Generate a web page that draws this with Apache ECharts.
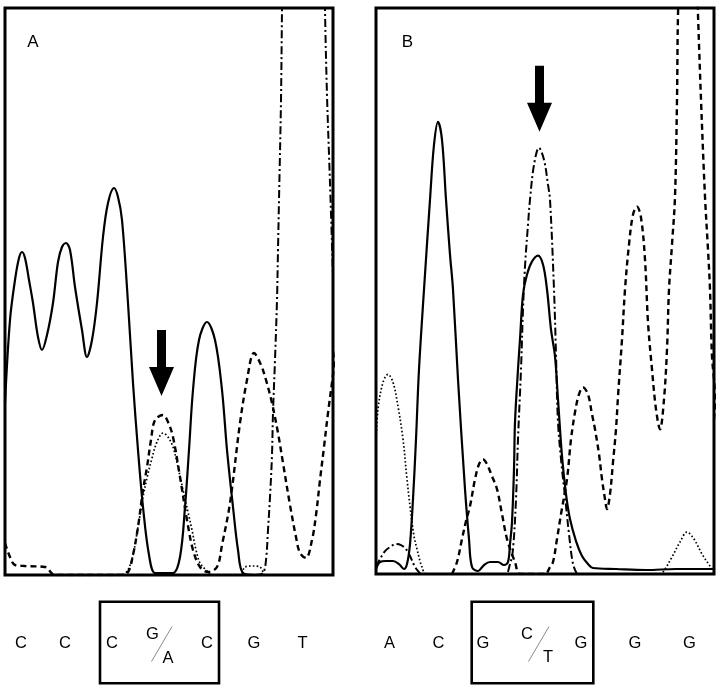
<!DOCTYPE html>
<html><head><meta charset="utf-8">
<script src="https://cdn.jsdelivr.net/npm/echarts@6/dist/echarts.min.js"></script>
<style>html,body{margin:0;padding:0;background:#fff}#c{width:720px;height:690px}</style>
</head><body><div id="c"></div>
<script>
// ---- Panel A traces: [scan position, signal intensity] ----
const solidA = [[0,172],[5,255],[10,295],[14,317],[17,323],[20,317],[24,295],[28,272],[33,238],[37,225],[42,240],[48,272],[53,313],[57,328],[61,332],[65,325],[70,288],[77,245],[82,218],[87,235],[92,272],[98,338],[103,372],[109,387],[113,378],[117,355],[123,272],[128,192],[133,125],[138,68],[144,20],[150,2],[159,2],[168,2],[175,18],[180,68],[184,125],[188,185],[194,235],[202,253],[210,235],[217,185],[222,125],[228,68],[233,25],[238,2],[250,0]];
const dashedA = [[0,32],[5,18],[10,10],[20,9],[40,8],[50,0],[115,0],[123,3],[128,20],[133,48],[138,85],[142,108],[146,135],[150,155],[158,160],[163,153],[168,138],[175,98],[182,55],[188,25],[195,8],[203,3],[212,8],[217,30],[225,72],[235,152],[242,195],[249,222],[256,210],[261,195],[267,172],[273,142],[278,112],[285,70],[291,38],[295,22],[301,17],[307,35],[311,60],[315,95],[319,128],[323,162],[328,200],[333,240]];
const dottedA = [[118,0],[123,5],[128,20],[132,42],[135,60],[138,78],[142,97],[147,117],[152,133],[158,142],[163,138],[168,128],[173,108],[178,85],[183,63],[187,45],[191,25],[195,12],[201,5],[207,0],[235,0],[240,8],[248,9],[255,8],[259,0]];
const dashDotA = [[250,0],[258,2],[261,15],[263,45],[265,78],[267,120],[268,162],[270,215],[272,275],[273,325],[274,375],[276,475],[277,565],[280,800],[290,1300],[298,1450],[306,1300],[316,800],[320,565],[322,480],[325,392],[328,300]];

// ---- Panel B traces ----
const solidB = [[0,5],[4,12],[10,13],[17,13],[23,10],[28,5],[31,10],[34,30],[37,75],[40,135],[43,205],[48,285],[54,375],[58,430],[62,453],[66,435],[70,375],[74,320],[77,285],[82,195],[89,85],[93,35],[96,7],[102,3],[108,9],[114,12],[122,12],[128,9],[132,12],[134,30],[136,52],[138,105],[139,152],[142,205],[144,235],[147,280],[151,300],[156,313],[162,319],[167,310],[171,285],[175,245],[179,218],[182,175],[186,118],[190,80],[194,55],[200,33],[206,18],[212,10],[217,6],[240,5],[270,4],[300,5],[338,5]];
const dashedB = [[76,0],[81,12],[86,35],[90,53],[94,68],[99,95],[103,110],[107,115],[111,110],[116,98],[121,85],[126,60],[131,35],[136,20],[139,12],[144,0],[169,0],[174,7],[177,12],[181,35],[185,60],[191,95],[195,135],[199,162],[203,180],[207,187],[212,180],[216,160],[219,145],[223,120],[226,95],[229,75],[231,65],[234,80],[237,112],[240,145],[242,178],[246,235],[249,285],[253,330],[257,360],[261,368],[265,357],[269,315],[272,252],[276,205],[280,165],[284,145],[288,175],[291,225],[293,285],[296,330],[299,378],[301,475],[302,560],[305,650],[312,700],[319,650],[322,560],[325,475],[329,378],[332,325],[334,285],[336,218],[338,195],[341,155]];
const dottedB = [[0,132],[2,165],[7,192],[12,200],[17,192],[22,168],[27,135],[31,95],[34,68],[38,38],[41,25],[44,13],[46,7],[50,0],[284,0],[289,5],[296,17],[304,32],[311,42],[318,35],[326,20],[334,8],[338,3]];
const dashDotB = [[0,7],[4,15],[9,23],[14,27],[20,30],[25,29],[30,25],[34,18],[38,9],[42,3],[46,0],[129,0],[134,10],[137,25],[140,75],[142,135],[145,205],[147,265],[149,308],[152,350],[154,375],[158,410],[163,427],[168,415],[172,390],[174,375],[178,285],[180,220],[182,152],[186,105],[189,78],[193,40],[197,10],[201,0]];

// ---- arrows (variant positions) ----
const arrowA = [156.5, 212];
const arrowB = [163.5, 476];

// ---- base calls ----
const panelLabels = ['A', 'B'];
const seqA = ['C', 'C', 'C', ['G', 'A'], 'C', 'G', 'T'];
const seqB = ['A', 'C', 'G', ['C', 'T'], 'G', 'G', 'G'];

// ---- layout (pixels) ----
const seqX = [[21, 65, 112, 161.5, 207, 254, 302.5], [389.5, 438.5, 483, 538.5, 581, 635, 689.5]];
const mixOff = [[[-9, -9.5], [6.5, 14.5]], [[-11.5, -9.5], [9.5, 14]]];
const boxes = [[100, 601.7, 119, 81.6], [471.7, 601.7, 121.6, 81.6]];
const seqY = 643.5;
const FONT_FAMILY = '"Liberation Sans", Arial, sans-serif';

const chart = echarts.init(document.getElementById('c'), null, {renderer: 'canvas'});

function axisX(idx, max) {
  return {type: 'value', gridIndex: idx, min: 0, max: max, show: false};
}
function axisY(idx) {
  return {type: 'value', gridIndex: idx, min: 0, max: 567, show: false};
}
const styles = {
  solid: {color: '#000', width: 2.2, type: 'solid'},
  dashed: {color: '#000', width: 2.4, type: [6, 4]},
  dotted: {color: '#000', width: 1.7, type: [1.6, 2.2]},
  dashDot: {color: '#000', width: 2, type: [8, 3, 2, 3]}
};
function line(data, idx, style, extra) {
  return Object.assign({
    type: 'line', xAxisIndex: idx, yAxisIndex: idx, data: data,
    showSymbol: false, symbol: 'none', smooth: 0.35, clip: true,
    lineStyle: styles[style], animation: false, silent: true
  }, extra || {});
}
const arrowPath = 'path://M8,0 L17,0 L17,37 L25,37 L12.5,66 L0,37 L8,37 Z';
function arrowMark(coord) {
  return {markPoint: {
    symbol: arrowPath, symbolSize: [25, 66], symbolKeepAspect: false,
    itemStyle: {color: '#000'}, label: {show: false}, animation: false,
    data: [{coord: coord}]
  }};
}

const textStyle = (t, size) => ({text: t, fontSize: size, fontFamily: FONT_FAMILY, fill: '#000', textAlign: 'center', textVerticalAlign: 'middle', verticalAlign: 'middle'});
const graphics = [];
panelLabels.forEach((t, i) => {
  graphics.push({type: 'text', x: i === 0 ? 33 : 407.5, y: 42.5, style: textStyle(t, 17)});
});
[seqA, seqB].forEach((seq, p) => {
  const b = boxes[p];
  graphics.push({type: 'rect', shape: {x: b[0], y: b[1], width: b[2], height: b[3]},
    style: {fill: 'none', stroke: '#000', lineWidth: 2.6}});
  seq.forEach((base, k) => {
    const cx = seqX[p][k];
    if (Array.isArray(base)) {
      const o = mixOff[p];
      graphics.push({type: 'text', x: cx + o[0][0], y: seqY + o[0][1], style: textStyle(base[0], 16.5)});
      graphics.push({type: 'text', x: cx + o[1][0], y: seqY + o[1][1], style: textStyle(base[1], 16.5)});
      graphics.push({type: 'line', shape: {x1: cx + 10.5, y1: seqY - 17, x2: cx - 10, y2: seqY + 18},
        style: {stroke: '#8a8a8a', lineWidth: 1}});
    } else {
      graphics.push({type: 'text', x: cx, y: seqY, style: textStyle(base, 16.5)});
    }
  });
});

chart.setOption({
  animation: false,
  backgroundColor: '#fff',
  grid: [
    {left: 5, top: 8, width: 328, height: 567, show: true, borderColor: '#000', borderWidth: 3, backgroundColor: 'transparent'},
    {left: 376, top: 8, width: 338, height: 566, show: true, borderColor: '#000', borderWidth: 3, backgroundColor: 'transparent'}
  ],
  xAxis: [axisX(0, 328), axisX(1, 338)],
  yAxis: [axisY(0), axisY(1)],
  series: [
    line(solidA, 0, 'solid'),
    line(dashedA, 0, 'dashed'),
    line(dottedA, 0, 'dotted', arrowMark(arrowA)),
    line(dashDotA, 0, 'dashDot'),
    line(solidB, 1, 'solid'),
    line(dashedB, 1, 'dashed'),
    line(dottedB, 1, 'dotted', arrowMark(arrowB)),
    line(dashDotB, 1, 'dashDot')
  ],
  graphic: graphics
});
</script></body></html>
